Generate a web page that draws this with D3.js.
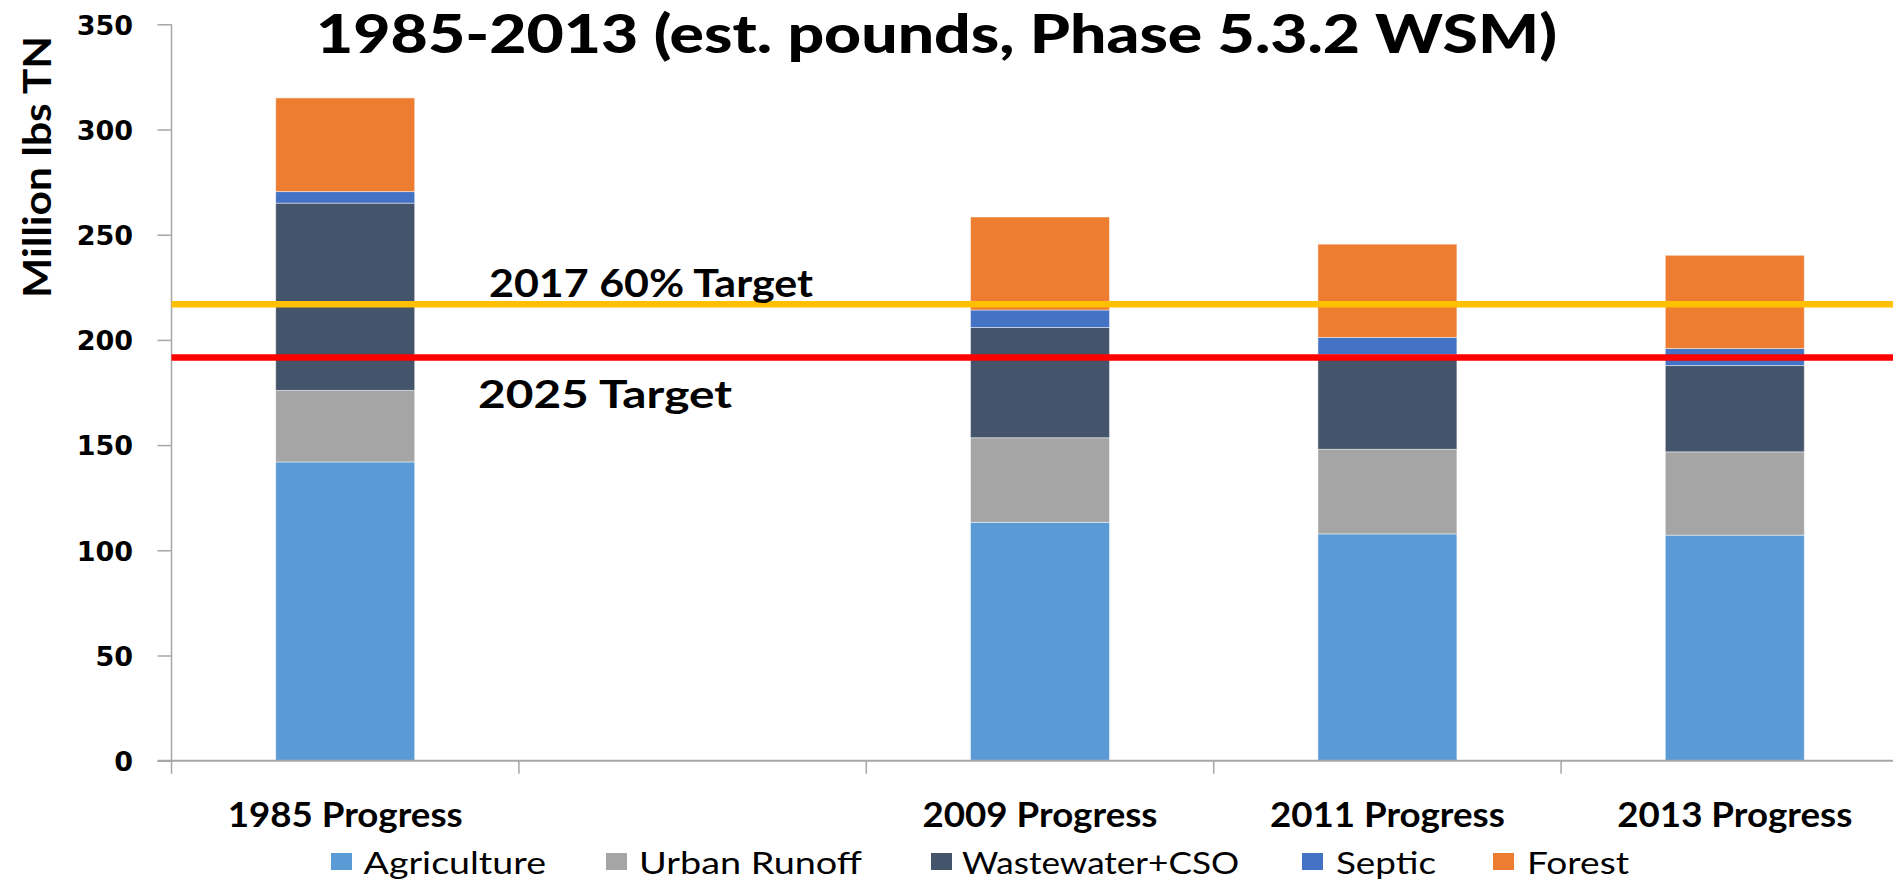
<!DOCTYPE html>
<html>
<head>
<meta charset="utf-8">
<script src="https://cdn.jsdelivr.net/npm/d3@7"></script>
<style>
  html, body { margin: 0; padding: 0; background: #fff; overflow: hidden; }
  svg { display: block; }
</style>
</head>
<body>
<svg id="chart" width="1893" height="881"></svg>
<script>
// ---- data ----
const categories = ["1985 Progress", "", "2009 Progress", "2011 Progress", "2013 Progress"];
const seriesNames = ["Agriculture", "Urban Runoff", "Wastewater+CSO", "Septic", "Forest"];
const agriculture = [142, null, 113.3, 107.8, 107.2];
const urbanRunoff = [34, null, 40.2, 40.2, 39.6];
const wastewater  = [89, null, 52.4, 45, 41];
const septic      = [5.5, null, 8.3, 8.2, 8.1];
const forest      = [44.5, null, 44.2, 44.3, 44.3];
const yTicks = [0, 50, 100, 150, 200, 250, 300, 350];
const targetValues = [217, 191.6];
const targetLabels = ["2017 60% Target", "2025 Target"];
const titleText = "1985-2013 (est. pounds, Phase 5.3.2 WSM)";
const yAxisTitle = "Million lbs TN";

const colors = ["#5b9bd5", "#a5a5a5", "#44546a", "#4472c4", "#ed7d31"];
const targetColors = ["#ffc000", "#ff0000"];

// ---- layout ----
const svg = d3.select("#chart");
const x0 = 171.5, x1 = 1908.5;
const yBottom = 760.7, yTop = 24.3;

const x = d3.scaleBand().domain(categories).range([x0, x1]).paddingInner(0).paddingOuter(0);
const y = d3.scaleLinear().domain([0, 350]).range([yBottom, yTop]);

const seriesData = [agriculture, urbanRunoff, wastewater, septic, forest];
const table = categories.map((c, i) => {
  const row = { cat: c };
  seriesNames.forEach((s, j) => row[s] = seriesData[j][i] == null ? 0 : seriesData[j][i]);
  return row;
});
const stack = d3.stack().keys(seriesNames)(table);

const barW = x.bandwidth() * 0.4;
const gBars = svg.append("g");
stack.forEach((layer, j) => {
  gBars.selectAll(null)
    .data(layer.filter((d, i) => seriesData[j][i] != null))
    .enter().append("rect")
    .attr("x", d => x(d.data.cat) + (x.bandwidth() - barW) / 2)
    .attr("y", d => y(d[1]))
    .attr("width", barW)
    .attr("height", d => y(d[0]) - y(d[1]))
    .attr("fill", colors[j])
    .attr("stroke", "rgba(255,255,255,0.45)")
    .attr("stroke-width", 1);
});

// ---- axes ----
const axisColor = "#a6a6a6";
const yAxis = d3.axisLeft(y).tickValues(yTicks).tickSize(14).tickFormat(d3.format("d"));
const gy = svg.append("g").attr("transform", `translate(${x0},0)`).call(yAxis);
gy.select(".domain").remove();
gy.selectAll(".tick line").attr("stroke", axisColor).attr("stroke-width", 1.5);
gy.selectAll(".tick text")
  .attr("x", -38.5)
  .attr("dy", "0.36em")
  .style("font-family", "'DejaVu Sans', sans-serif")
  .style("font-weight", "bold")
  .style("font-size", "27px")
  .attr("fill", "#000");
svg.append("line")
  .attr("x1", x0).attr("x2", x0).attr("y1", yTop).attr("y2", yBottom + 13)
  .attr("stroke", axisColor).attr("stroke-width", 1.5);

// x axis with ticks at band boundaries
const gx = svg.append("g");
gx.append("line").attr("x1", x0 - 14).attr("x2", x1).attr("y1", yBottom).attr("y2", yBottom)
  .attr("stroke", axisColor).attr("stroke-width", 2);
const boundaries = categories.map(c => x(c)).concat([x(categories[categories.length - 1]) + x.bandwidth()]);
gx.selectAll(null).data(boundaries.slice(1)).enter().append("line")
  .attr("x1", d => d).attr("x2", d => d)
  .attr("y1", yBottom).attr("y2", yBottom + 13)
  .attr("stroke", axisColor).attr("stroke-width", 1.5);

const calibri = "Lato, 'Open Sans', sans-serif";
gx.selectAll(null).data(categories.filter(c => c !== "")).enter().append("text")
  .attr("x", d => x(d) + x.bandwidth() / 2)
  .attr("y", 827)
  .attr("text-anchor", "middle")
  .attr("textLength", 235)
  .attr("lengthAdjust", "spacingAndGlyphs")
  .style("font-family", calibri).style("font-weight", "bold").style("font-size", "34px")
  .text(d => d);

// ---- target lines ----
svg.selectAll(null).data(targetValues).enter().append("line")
  .attr("x1", x0).attr("x2", 1893)
  .attr("y1", d => y(d)).attr("y2", d => y(d))
  .attr("stroke", (d, i) => targetColors[i])
  .attr("stroke-width", 6.5);

const targetPos = [{ x: 489, y: 297, w: 324 }, { x: 478, y: 408, w: 254 }];
svg.selectAll(null).data(targetLabels).enter().append("text")
  .attr("x", (d, i) => targetPos[i].x)
  .attr("y", (d, i) => targetPos[i].y)
  .attr("textLength", (d, i) => targetPos[i].w)
  .attr("lengthAdjust", "spacingAndGlyphs")
  .style("font-family", calibri).style("font-weight", "bold").style("font-size", "39px")
  .attr("fill", "#000")
  .text(d => d);

// ---- title ----
svg.append("text")
  .attr("x", 316).attr("y", 52.5)
  .attr("textLength", 1241).attr("lengthAdjust", "spacingAndGlyphs")
  .style("font-family", calibri).style("font-weight", "900").style("font-size", "53px")
  .text(titleText);

// ---- y axis title ----
svg.append("text")
  .attr("transform", "translate(50.7,167) rotate(-90)")
  .attr("text-anchor", "middle")
  .attr("textLength", 262).attr("lengthAdjust", "spacingAndGlyphs")
  .style("font-family", calibri).style("font-weight", "bold").style("font-size", "39px")
  .text(yAxisTitle);

// ---- legend ----
const legendPos = [
  { sx: 331, tx: 363.5, w: 182.5 },
  { sx: 606, tx: 639, w: 223 },
  { sx: 931, tx: 962, w: 277 },
  { sx: 1302, tx: 1336, w: 100 },
  { sx: 1493, tx: 1527, w: 102 }
];
const gl = svg.append("g");
seriesNames.forEach((s, i) => {
  gl.append("rect").attr("x", legendPos[i].sx).attr("y", 853).attr("width", 21).attr("height", 17)
    .attr("fill", colors[i]);
  gl.append("text").attr("x", legendPos[i].tx).attr("y", 874)
    .attr("textLength", legendPos[i].w).attr("lengthAdjust", "spacingAndGlyphs")
    .style("font-family", calibri).style("font-size", "31px")
    .text(s);
});
</script>
</body>
</html>
